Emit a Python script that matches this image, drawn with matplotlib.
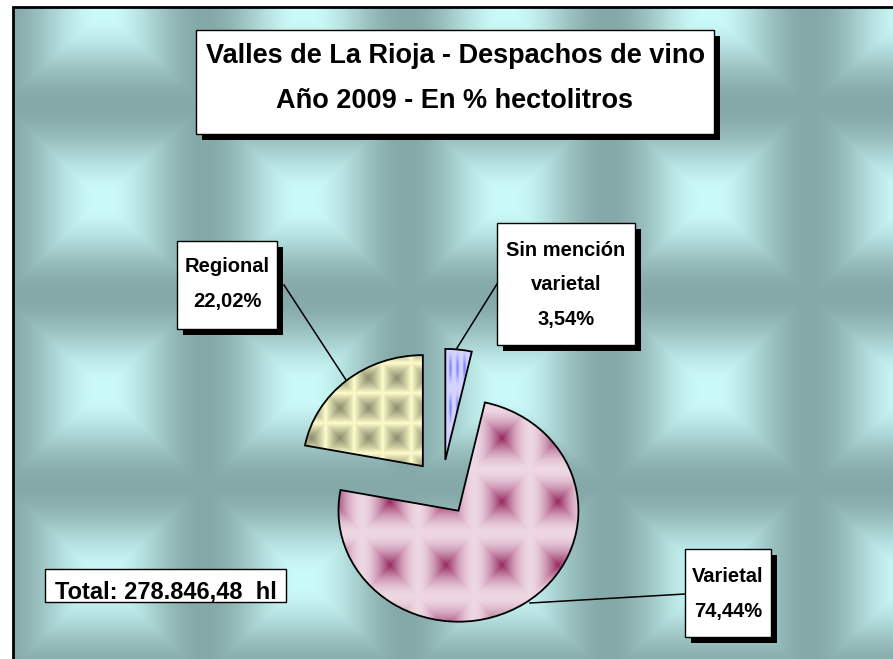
import numpy as np
import matplotlib.pyplot as plt
from matplotlib.patches import Rectangle

# data
categories = ['Sin mención\nvarietal', 'Varietal', 'Regional']
shares = [3.54, 74.44, 22.02]
total_hl = 278846.48
title_lines = ['Valles de La Rioja - Despachos de vino', 'Año 2009 - En % hectolitros']


def es_num(v):
    # spanish number format: 278.846,48
    return f"{v:,.2f}".replace(',', 'X').replace('.', ',').replace('X', '.')


W, H = 893, 659
fig = plt.figure(figsize=(W / 100, H / 100), dpi=100)
plt.rcParams['font.family'] = ['Liberation Sans', 'DejaVu Sans']

xx, yy = np.meshgrid(np.arange(W) + 0.5, np.arange(H) + 0.5)


def cheb(x0, y0, px, py):
    # chebyshev distance to nearest tile centre, 0 at centre, 1 at tile edge
    dx = np.abs(((xx - x0 + px / 2) % px) - px / 2) / (px / 2)
    dy = np.abs(((yy - y0 + py / 2) % py) - py / 2) / (py / 2)
    return np.maximum(dx, dy)


def blend(c1, c2, w):
    c1 = np.array(c1) / 255.0
    c2 = np.array(c2) / 255.0
    return c1 + (c2 - c1) * w[..., None]


### background texture (teal pillows)
t = cheb(103, 200, 202, 190)
w = 0.5 * (1 + np.cos(np.pi * t))
bg = blend((133, 168, 168), (204, 252, 250), w)
frame_x, frame_y = 13, 7
bg[:frame_y, :, :] = 1.0
bg[:, :frame_x, :] = 1.0

ax_bg = fig.add_axes([0, 0, 1, 1])
ax_bg.imshow(bg, extent=(0, W, H, 0), origin='upper', aspect='auto', interpolation='bilinear')
ax_bg.plot([frame_x, frame_x, W], [H, frame_y, frame_y], color='black', lw=2.0, solid_joinstyle='miter')
ax_bg.set_xlim(0, W)
ax_bg.set_ylim(H, 0)
ax_bg.axis('off')

### pie (elliptical, as in the excel chart)
cx, cy = 442, 487.5
rx, ry = 120, 111
ax_pie = fig.add_axes([0, 0, 1, 1])
wedges, _ = ax_pie.pie(shares, startangle=90, counterclock=False, explode=[0.25] * 3,
                       center=(cx / rx, (H - cy) / ry), radius=1, frame=True,
                       wedgeprops=dict(facecolor='none', edgecolor='black', linewidth=1.3, zorder=3))
ax_pie.set_xlim(0, W / rx)
ax_pie.set_ylim(0, H / ry)
ax_pie.set_aspect('auto')
ax_pie.axis('off')
ax_pie.patch.set_visible(False)

# wedge textures
tex_sin = blend((212, 212, 255), (115, 125, 255),
                0.85 * (0.5 * (1 + np.cos(2 * np.pi * (xx - 450.5) / 7.0))) ** 2
                * 0.5 * (1 + np.cos(2 * np.pi * (yy - 368) / 40.0)))
tex_var = blend((238, 216, 228), (150, 40, 95), (1 - cheb(502, 438, 56, 63.5)) ** 1.8)
tex_reg = blend((255, 255, 204), (140, 140, 110), (1 - cheb(340, 408, 28.5, 30)) ** 0.9)

for wdg, tex in zip(wedges, [tex_sin, tex_var, tex_reg]):
    im = ax_pie.imshow(tex, extent=(0, W / rx, 0, H / ry), origin='upper', aspect='auto',
                       interpolation='bilinear', zorder=2)
    im.set_clip_path(wdg)
ax_pie.set_xlim(0, W / rx)
ax_pie.set_ylim(0, H / ry)

### overlay: boxes, labels, leader lines
ax = fig.add_axes([0, 0, 1, 1])
ax.set_xlim(0, W)
ax.set_ylim(H, 0)
ax.axis('off')
ax.patch.set_visible(False)


def box(x0, y0, x1, y1, shadow=6):
    if shadow:
        ax.add_patch(Rectangle((x0 + shadow, y0 + shadow), x1 - x0, y1 - y0,
                               facecolor='black', edgecolor='none', zorder=4))
    ax.add_patch(Rectangle((x0, y0), x1 - x0, y1 - y0, facecolor='white',
                           edgecolor='black', linewidth=1.0, zorder=5))


# title
box(196, 30, 714, 134)
ax.text(455, 56, title_lines[0], ha='center', va='center', fontsize=19.5, fontweight='bold', zorder=6)
ax.text(455, 101, title_lines[1], ha='center', va='center', fontsize=19.5, fontweight='bold', zorder=6)

# data labels: box, text line centres, leader line
label_boxes = [(497, 223, 635, 345), (685, 549, 771, 637), (177, 241, 277, 329)]
label_rows = [[250, 284, 319], [577, 612], [267, 302]]
leaders = [((497, 457), (284, 348)), ((685, 530), (594, 603)), ((284, 346), (285, 380))]

for name, val, (x0, y0, x1, y1), rows, (lx, ly) in zip(categories, shares, label_boxes, label_rows, leaders):
    ax.plot(lx, ly, color='black', lw=1.1, zorder=3)
    box(x0, y0, x1, y1)
    lines = name.split('\n') + [f"{val:.2f}".replace('.', ',') + '%']
    for txt, yr in zip(lines, rows):
        ax.text((x0 + x1) / 2, yr, txt, ha='center', va='center', fontsize=14.5,
                fontweight='bold', zorder=6)

# total
box(45, 569, 286, 602, shadow=0)
ax.text(55, 599, f"Total: {es_num(total_hl)}  hl", ha='left', va='baseline', fontsize=17,
        fontweight='bold', zorder=6)

fig.savefig('out.png', dpi=100)
